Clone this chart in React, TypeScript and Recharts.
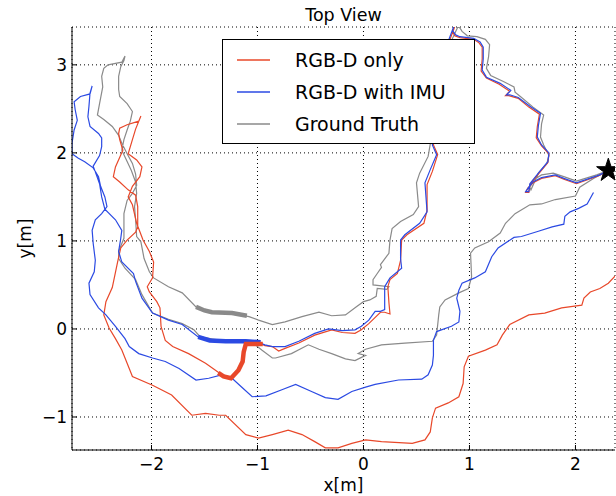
import React from 'react';
import {
  ComposedChart, Line, Scatter, XAxis, YAxis, CartesianGrid, Legend, Symbols,
} from 'recharts';

// trajectories, [x, y] in metres, in travel order
const groundTruth: [number, number][] = [
  [2.31, 1.8], [2.2, 1.75], [2.01, 1.68], [1.89, 1.73], [1.79, 1.77], [1.68, 1.75], [1.6, 1.69], [1.57, 1.61],
  [1.58, 1.58], [1.65, 1.77], [1.73, 1.88], [1.75, 1.97], [1.7, 2.09], [1.67, 2.18], [1.68, 2.33], [1.7, 2.43],
  [1.6, 2.52], [1.48, 2.64], [1.43, 2.69], [1.42, 2.75], [1.32, 2.81], [1.2, 2.88], [1.16, 2.96], [1.18, 3.09],
  [1.19, 3.23], [1.15, 3.29], [1.07, 3.32], [0.98, 3.33], [0.93, 3.38], [0.91, 3.42], [0.89, 3.43], [0.82, 3.25],
  [0.75, 2.8], [0.66, 2.3], [0.63, 2.1], [0.61, 1.96], [0.53, 1.77], [0.5, 1.66], [0.52, 1.39], [0.47, 1.3],
  [0.35, 1.22], [0.27, 1.14], [0.25, 1.01], [0.24, 0.86], [0.19, 0.78], [0.16, 0.73], [0.17, 0.7], [0.13, 0.63],
  [0.09, 0.56], [0.09, 0.5], [0.24, 0.48], [0.22, 0.45], [0.13, 0.46], [0.12, 0.37], [0.06, 0.33], [0.0, 0.31],
  [-0.07, 0.25], [-0.17, 0.16], [-0.3, 0.15], [-0.42, 0.19], [-0.58, 0.14], [-0.74, 0.08], [-0.86, 0.05],
  [-0.99, 0.1], [-1.08, 0.14], [-1.24, 0.18], [-1.43, 0.19], [-1.58, 0.25], [-1.71, 0.41], [-1.84, 0.48],
  [-1.98, 0.58], [-2.02, 0.65], [-2.07, 0.8], [-2.1, 0.99], [-2.14, 1.05], [-2.15, 1.24], [-2.16, 1.39],
  [-2.14, 1.54], [-2.15, 1.67], [-2.19, 1.8], [-2.26, 1.98], [-2.28, 2.03], [-2.26, 2.15], [-2.23, 2.26],
  [-2.2, 2.36], [-2.18, 2.47], [-2.23, 2.56], [-2.3, 2.64], [-2.31, 2.72], [-2.31, 2.87], [-2.29, 2.98],
  [-2.26, 3.05], [-2.25, 3.1], [-2.28, 3.03], [-2.41, 3.0], [-2.45, 2.96], [-2.47, 2.87], [-2.46, 2.75],
  [-2.49, 2.56], [-2.51, 2.43], [-2.45, 2.38], [-2.37, 2.3], [-2.31, 2.2], [-2.28, 2.11], [-2.23, 1.99],
  [-2.18, 1.88], [-2.15, 1.76], [-2.14, 1.63], [-2.18, 1.54], [-2.23, 1.46], [-2.26, 1.31], [-2.26, 1.16],
  [-2.26, 1.03], [-2.31, 0.88], [-2.31, 0.8], [-2.25, 0.69], [-2.15, 0.56], [-2.09, 0.39], [-1.99, 0.18],
  [-1.84, 0.11], [-1.71, 0.06], [-1.6, -0.01], [-1.54, -0.09], [-1.3, -0.14], [-1.05, -0.15], [-0.96, -0.24],
  [-0.86, -0.33], [-0.83, -0.33], [-0.68, -0.28], [-0.52, -0.18], [-0.42, -0.23], [-0.3, -0.28], [-0.17, -0.34],
  [-0.08, -0.36], [0.02, -0.3], [-0.05, -0.28], [0.02, -0.23], [0.17, -0.18], [0.39, -0.16], [0.65, -0.14],
  [0.69, -0.07], [0.71, 0.16], [0.72, 0.25], [0.77, 0.33], [0.9, 0.41], [0.99, 0.46], [1.02, 0.59],
  [1.01, 0.86], [1.05, 0.92], [1.18, 0.99], [1.29, 1.09], [1.34, 1.2], [1.43, 1.31], [1.57, 1.41],
  [1.68, 1.42], [1.81, 1.47], [2.0, 1.51], [2.04, 1.61], [2.17, 1.71], [2.31, 1.8],
];

const withImu: [number, number][] = [
  [2.31, 1.8], [2.23, 1.75], [2.01, 1.66], [1.89, 1.71], [1.81, 1.75], [1.68, 1.72], [1.6, 1.67], [1.56, 1.61],
  [1.53, 1.56], [1.56, 1.56], [1.57, 1.65], [1.65, 1.77], [1.74, 1.9], [1.75, 2.0], [1.68, 2.09], [1.64, 2.18],
  [1.65, 2.31], [1.67, 2.45], [1.57, 2.53], [1.46, 2.63], [1.38, 2.66], [1.35, 2.66], [1.39, 2.71], [1.29, 2.79],
  [1.16, 2.86], [1.12, 2.94], [1.13, 3.07], [1.13, 3.2], [1.1, 3.26], [1.04, 3.3], [0.91, 3.32], [0.87, 3.34],
  [0.84, 3.39], [0.85, 3.43], [0.8, 3.27], [0.74, 2.8], [0.68, 2.3], [0.65, 2.09], [0.69, 1.98], [0.63, 1.81],
  [0.58, 1.66], [0.6, 1.33], [0.53, 1.2], [0.39, 1.07], [0.35, 1.01], [0.35, 0.8], [0.36, 0.69], [0.25, 0.58],
  [0.2, 0.48], [0.2, 0.29], [0.2, 0.22], [0.16, 0.2], [0.11, 0.2], [0.05, 0.1], [-0.02, 0.03], [-0.08, -0.01],
  [-0.2, -0.02], [-0.33, 0.0], [-0.46, -0.05], [-0.61, -0.14], [-0.74, -0.2], [-0.86, -0.2], [-0.93, -0.18],
  [-1.0, -0.15], [-1.11, -0.14], [-1.3, -0.14], [-1.55, -0.1], [-1.71, 0.05], [-1.84, 0.1], [-1.99, 0.18],
  [-2.09, 0.35], [-2.15, 0.54], [-2.17, 0.63], [-2.28, 0.76], [-2.31, 0.88], [-2.29, 1.03], [-2.28, 1.12],
  [-2.34, 1.24], [-2.44, 1.36], [-2.47, 1.5], [-2.49, 1.65], [-2.52, 1.75], [-2.55, 1.85], [-2.49, 1.97],
  [-2.47, 2.07], [-2.47, 2.17], [-2.5, 2.22], [-2.58, 2.3], [-2.6, 2.41], [-2.59, 2.53], [-2.58, 2.68],
  [-2.56, 2.76], [-2.58, 2.67], [-2.67, 2.64], [-2.73, 2.58], [-2.72, 2.49], [-2.7, 2.37], [-2.73, 2.26],
  [-2.75, 2.11], [-2.75, 1.99], [-2.69, 1.94], [-2.63, 1.9], [-2.55, 1.83], [-2.5, 1.73], [-2.48, 1.62],
  [-2.44, 1.5], [-2.42, 1.39], [-2.47, 1.31], [-2.53, 1.24], [-2.56, 1.12], [-2.55, 0.97], [-2.53, 0.78],
  [-2.54, 0.65], [-2.59, 0.52], [-2.58, 0.39], [-2.5, 0.24], [-2.43, 0.16], [-2.34, 0.03], [-2.25, -0.11],
  [-2.21, -0.2], [-2.12, -0.28], [-1.99, -0.33], [-1.87, -0.37], [-1.74, -0.45], [-1.58, -0.58], [-1.46, -0.56],
  [-1.33, -0.52], [-1.24, -0.56], [-1.14, -0.67], [-1.05, -0.77], [-0.92, -0.76], [-0.77, -0.69], [-0.64, -0.63],
  [-0.49, -0.71], [-0.36, -0.78], [-0.24, -0.8], [-0.11, -0.71], [0.02, -0.66], [0.11, -0.63], [0.33, -0.58],
  [0.55, -0.57], [0.61, -0.52], [0.65, -0.41], [0.66, -0.3], [0.66, -0.13], [0.69, -0.03], [0.83, 0.03],
  [0.9, 0.08], [0.91, 0.2], [0.88, 0.35], [0.9, 0.44], [0.93, 0.52], [1.05, 0.58], [1.15, 0.65], [1.21, 0.82],
  [1.27, 0.92], [1.42, 1.04], [1.49, 1.05], [1.65, 1.11], [1.78, 1.16], [1.89, 1.19], [1.9, 1.28], [1.95, 1.33],
  [2.03, 1.37], [2.11, 1.42], [2.17, 1.55],
];

const rgbdOnly: [number, number][] = [
  [2.31, 1.8], [2.22, 1.74], [2.01, 1.65], [1.89, 1.7], [1.81, 1.74], [1.68, 1.71], [1.6, 1.66], [1.55, 1.6],
  [1.53, 1.55], [1.56, 1.55], [1.57, 1.64], [1.65, 1.76], [1.74, 1.89], [1.75, 1.99], [1.68, 2.08], [1.63, 2.17],
  [1.64, 2.3], [1.66, 2.44], [1.56, 2.52], [1.46, 2.62], [1.37, 2.65], [1.34, 2.65], [1.38, 2.7], [1.28, 2.78],
  [1.16, 2.85], [1.11, 2.93], [1.12, 3.07], [1.12, 3.2], [1.09, 3.25], [1.04, 3.29], [0.91, 3.31], [0.86, 3.33],
  [0.84, 3.39], [0.86, 3.43], [0.81, 3.27], [0.75, 2.8], [0.69, 2.3], [0.66, 2.09], [0.7, 1.98], [0.65, 1.79],
  [0.6, 1.64], [0.6, 1.35], [0.57, 1.2], [0.41, 1.07], [0.36, 1.01], [0.35, 0.78], [0.32, 0.63], [0.25, 0.56],
  [0.23, 0.48], [0.24, 0.3], [0.25, 0.17], [0.2, 0.19], [0.16, 0.19], [0.05, 0.06], [-0.02, -0.01],
  [-0.08, -0.05], [-0.2, -0.04], [-0.3, -0.01], [-0.46, -0.07], [-0.61, -0.16], [-0.74, -0.22], [-0.8, -0.25],
  [-0.86, -0.2], [-0.93, -0.19], [-0.96, -0.17], [-1.11, -0.17], [-1.13, -0.26], [-1.14, -0.37], [-1.18, -0.47],
  [-1.25, -0.56], [-1.32, -0.54], [-1.36, -0.5], [-1.49, -0.39], [-1.65, -0.28], [-1.8, -0.2], [-1.87, -0.13],
  [-1.91, 0.03], [-1.92, 0.24], [-1.95, 0.31], [-2.02, 0.42], [-2.04, 0.48], [-1.99, 0.58], [-1.98, 0.76],
  [-2.02, 0.88], [-2.08, 1.01], [-2.14, 1.2], [-2.18, 1.41], [-2.22, 1.5], [-2.18, 1.62], [-2.11, 1.73],
  [-2.09, 1.84], [-2.14, 1.92], [-2.22, 1.99], [-2.18, 2.15], [-2.15, 2.27], [-2.1, 2.42], [-2.12, 2.36],
  [-2.23, 2.32], [-2.3, 2.28], [-2.31, 2.22], [-2.3, 2.15], [-2.27, 2.03], [-2.34, 1.84], [-2.36, 1.73],
  [-2.3, 1.67], [-2.22, 1.58], [-2.15, 1.52], [-2.13, 1.39], [-2.13, 1.16], [-2.15, 1.1], [-2.23, 1.01],
  [-2.29, 0.92], [-2.32, 0.76], [-2.37, 0.47], [-2.43, 0.31], [-2.45, 0.16], [-2.4, 0.01], [-2.34, -0.11],
  [-2.28, -0.24], [-2.21, -0.45], [-2.18, -0.54], [-1.99, -0.64], [-1.81, -0.75], [-1.62, -0.98], [-1.49, -0.96],
  [-1.36, -0.98], [-1.3, -0.98], [-1.11, -1.2], [-0.99, -1.24], [-0.86, -1.2], [-0.71, -1.15], [-0.58, -1.2],
  [-0.46, -1.28], [-0.36, -1.35], [-0.24, -1.35], [-0.11, -1.3], [0.02, -1.26], [0.17, -1.28], [0.46, -1.3],
  [0.58, -1.26], [0.63, -1.17], [0.65, -1.01], [0.68, -0.9], [0.8, -0.84], [0.9, -0.77], [0.94, -0.62],
  [0.95, -0.43], [0.99, -0.31], [1.15, -0.24], [1.26, -0.18], [1.31, -0.07], [1.38, 0.05], [1.56, 0.16],
  [1.71, 0.18], [1.87, 0.24], [2.06, 0.27], [2.08, 0.35], [2.14, 0.42], [2.23, 0.46], [2.31, 0.52], [2.38, 0.61],
];

// short highlighted stretches drawn thick
const groundTruthThick: [number, number][] = [[-1.58, 0.25], [-1.5, 0.21], [-1.43, 0.19], [-1.24, 0.18], [-1.1, 0.15]];
const withImuThick: [number, number][] = [[-1.56, -0.09], [-1.45, -0.13], [-1.3, -0.14], [-1.11, -0.14], [-0.97, -0.15]];
const rgbdOnlyThick: [number, number][] = [
  [-0.95, -0.17], [-1.11, -0.17], [-1.13, -0.26], [-1.14, -0.37], [-1.18, -0.47], [-1.25, -0.56], [-1.32, -0.54], [-1.37, -0.5],
];
const startPoint: [number, number][] = [[2.31, 1.8]];

const xTicks = [-2, -1, 0, 1, 2];
const yTicks = [-1, 0, 1, 2, 3];

const RED = '#e8482a';
const BLUE = '#2b4ae3';
const GRAY = '#8a8a8a';

const legendItems = [
  { label: 'RGB-D only', color: RED },
  { label: 'RGB-D with IMU', color: BLUE },
  { label: 'Ground Truth', color: GRAY },
];

const FONT = '"DejaVu Sans", sans-serif';
const toPts = (arr: [number, number][]) => arr.map(([x, y]) => ({ x, y }));
const fmt = (v: number) => (v < 0 ? `\u2212${Math.abs(v)}` : `${v}`);
const blank = () => '';

const LegendBox = () => (
  <div style={{
    width: 253, height: 105, boxSizing: 'border-box', border: '1px solid #000', background: '#fff',
    paddingTop: 4, fontFamily: FONT, fontSize: 19, color: '#000',
  }}>
    {legendItems.map((item) => (
      <div key={item.label} style={{ height: 32, display: 'flex', alignItems: 'center' }}>
        <svg width={33} height={4} style={{ marginLeft: 14 }}>
          <line x1={0} y1={2} x2={33} y2={2} stroke={item.color} strokeWidth={1.3} />
        </svg>
        <span style={{ marginLeft: 25, lineHeight: '32px', whiteSpace: 'nowrap' }}>{item.label}</span>
      </div>
    ))}
  </div>
);

const StarShape = (props: any) => (
  <Symbols cx={props.cx} cy={props.cy} type="star" size={170} fill="#000" stroke="#000" />
);

export default function App() {
  const axisTick = { fontSize: 17, fill: '#000', fontFamily: FONT };
  return (
    <div style={{ position: 'absolute', left: 0, top: 0, width: 616, height: 496, background: '#fff' }}>
      <div style={{
        position: 'absolute', left: 72, top: 7, width: 543, textAlign: 'center', zIndex: 2,
        fontFamily: FONT, fontSize: 17.5, lineHeight: 1, color: '#000',
      }}>Top View</div>
      <ComposedChart width={616} height={496} margin={{ top: 27, right: 1, bottom: 0, left: 12 }}>
        <CartesianGrid stroke="#000" strokeDasharray="1 3" strokeWidth={1} />
        <XAxis
          type="number" dataKey="x" domain={[-2.75, 2.373]} allowDataOverflow ticks={xTicks}
          tickFormatter={fmt} tick={axisTick} height={46} tickSize={-5} tickMargin={13}
          stroke="#000" interval={0}
          label={{
            content: (p: any) => (
              <text x={p.viewBox.x + p.viewBox.width / 2} y={p.viewBox.y + 41} textAnchor="middle"
                fontSize={17} fontFamily={FONT} fill="#000">x[m]</text>
            ),
          }}
        />
        <XAxis
          xAxisId="top" orientation="top" type="number" dataKey="x" domain={[-2.75, 2.373]} allowDataOverflow
          ticks={xTicks} tickFormatter={blank} height={0} tickSize={-5} stroke="#000" interval={0}
        />
        <YAxis
          type="number" dataKey="y" domain={[-1.375, 3.43]} allowDataOverflow ticks={yTicks}
          tickFormatter={fmt} tick={axisTick} width={60} tickSize={-5} tickMargin={10}
          stroke="#000" interval={0}
          label={{
            content: (p: any) => {
              const cx = p.viewBox.x + 19;
              const cy = p.viewBox.y + p.viewBox.height / 2;
              return (
                <text x={cx} y={cy} textAnchor="middle" transform={`rotate(-90 ${cx} ${cy})`}
                  fontSize={17} fontFamily={FONT} fill="#000">y[m]</text>
              );
            },
          }}
        />
        <YAxis
          yAxisId="right" orientation="right" type="number" domain={[-1.375, 3.43]} allowDataOverflow
          ticks={yTicks} tickFormatter={blank} width={0} tickSize={-5} stroke="#000" interval={0}
        />
        <Legend
          layout="vertical" align="center" verticalAlign="middle"
          content={() => <LegendBox />}
          wrapperStyle={{ left: 222, top: 39, width: 253, height: 105 }}
        />
        <Line data={toPts(groundTruth)} dataKey="y" type="linear" stroke={GRAY} strokeWidth={1.2}
          dot={false} activeDot={false} isAnimationActive={false} legendType="none" />
        <Line data={toPts(rgbdOnly)} dataKey="y" type="linear" stroke={RED} strokeWidth={1.2}
          dot={false} activeDot={false} isAnimationActive={false} legendType="none" />
        <Line data={toPts(withImu)} dataKey="y" type="linear" stroke={BLUE} strokeWidth={1.2}
          dot={false} activeDot={false} isAnimationActive={false} legendType="none" />
        <Line data={toPts(groundTruthThick)} dataKey="y" type="linear" stroke={GRAY} strokeWidth={4.5}
          dot={false} activeDot={false} isAnimationActive={false} legendType="none" />
        <Line data={toPts(withImuThick)} dataKey="y" type="linear" stroke={BLUE} strokeWidth={4.5}
          dot={false} activeDot={false} isAnimationActive={false} legendType="none" />
        <Line data={toPts(rgbdOnlyThick)} dataKey="y" type="linear" stroke={RED} strokeWidth={4.5}
          dot={false} activeDot={false} isAnimationActive={false} legendType="none" />
        <Scatter data={toPts(startPoint)} dataKey="y" shape={StarShape} isAnimationActive={false} legendType="none" />
      </ComposedChart>
    </div>
  );
}
